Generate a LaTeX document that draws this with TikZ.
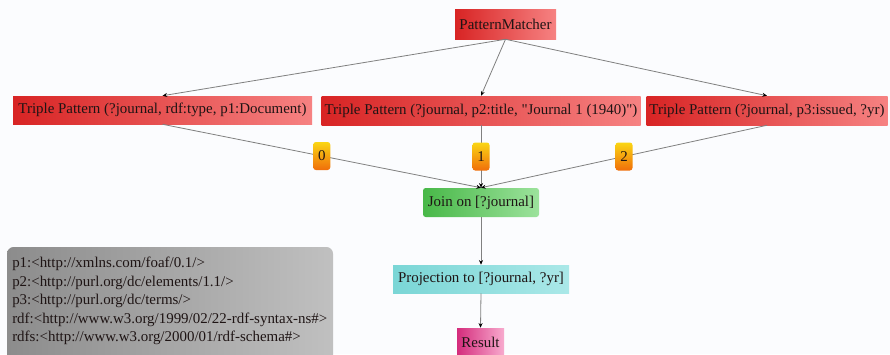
\documentclass[tikz,border=0pt]{standalone}
\usepackage{fontspec}
\setmainfont{Liberation Serif}
\usetikzlibrary{arrows.meta}

\definecolor{bgcol}{HTML}{FBFCFE}
\definecolor{edgecol}{HTML}{808080}
\definecolor{txtcol}{HTML}{1E1414}

\tikzset{
  box/.style={draw=none, inner sep=0pt, font=\fontsize{11.2}{13}\selectfont, text=txtcol},
  redbox/.style={box, left color={rgb,255:red,216;green,36;blue,36}, right color={rgb,255:red,246;green,130;blue,130}},
  joinbox/.style={box, rounded corners=2pt, left color={rgb,255:red,72;green,184;blue,72}, right color={rgb,255:red,156;green,226;blue,156}},
  projbox/.style={box, left color={rgb,255:red,122;green,214;blue,214}, right color={rgb,255:red,170;green,232;blue,232}},
  resbox/.style={box, left color={rgb,255:red,212;green,44;blue,124}, right color={rgb,255:red,248;green,170;blue,206}},
  idxlabel/.style={box, rounded corners=2pt, minimum width=12.75pt, minimum height=21pt,
    top color={rgb,255:red,250;green,214;blue,20}, bottom color={rgb,255:red,240;green,110;blue,10}},
  link/.style={draw=edgecol, line width=0.6pt, -{Stealth[length=3.5pt,width=3pt,color=black]}},
}

\begin{document}
\begin{tikzpicture}[x=0.75pt, y=-0.75pt]
  \useasboundingbox[fill=bgcol] (0,0) rectangle (890,354);

  % namespace prefixes
  \begin{scope}
    \clip (0,0) rectangle (890,354);
    \shade[rounded corners=5pt, left color={rgb,255:red,140;green,140;blue,140}, right color={rgb,255:red,192;green,192;blue,192}]
      (7,247) rectangle (333,370);
  \end{scope}
  \node[anchor=west, inner sep=0pt, align=left, text=txtcol,
        font=\fontsize{11.2}{13.9}\selectfont] (prefixes) at (12,301)
    {p1:<http://xmlns.com/foaf/0.1/>\\
     p2:<http://purl.org/dc/elements/1.1/>\\
     p3:<http://purl.org/dc/terms/>\\
     rdf:<http://www.w3.org/1999/02/22-rdf-syntax-ns\#>\\
     rdfs:<http://www.w3.org/2000/01/rdf-schema\#>};

  % operator tree
  \node[redbox, minimum width=75.75pt, minimum height=22.5pt] (pm) at (505.5,24) {PatternMatcher};

  \node[redbox, minimum width=224.25pt, minimum height=21pt] (t1) at (162.5,110) {Triple Pattern (?journal, rdf:type, p1:Document)};
  \node[redbox, minimum width=239.25pt, minimum height=21.75pt] (t2) at (481,110.5) {Triple Pattern (?journal, p2:title, \textquotedbl Journal 1 (1940)\textquotedbl)};
  \node[redbox, minimum width=180.75pt, minimum height=21.75pt] (t3) at (767,110.5) {Triple Pattern (?journal, p3:issued, ?yr)};

  \node[joinbox, minimum width=87pt, minimum height=21.75pt] (join) at (481,202.5) {Join on [?journal]};
  \node[projbox, minimum width=132pt, minimum height=21pt] (proj) at (481,279) {Projection to [?journal, ?yr]};
  \node[resbox, minimum width=35.25pt, minimum height=21pt] (res) at (480.5,342) {Result};

  \draw[link] (pm.south) -- (t1.north);
  \draw[link] (pm.south) -- (t2.north);
  \draw[link] (pm.south) -- (t3.north);

  \draw[link] (t1.south) -- node[idxlabel] (l0) {0} (join.north);
  \draw[link] (t2.south) -- node[idxlabel] (l1) {1} (join.north);
  \draw[link] (t3.south) -- node[idxlabel] (l2) {2} (join.north);

  \draw[link] (join.south) -- (proj.north);
  \draw[link] (proj.south) -- (res.north);
\end{tikzpicture}
\end{document}
